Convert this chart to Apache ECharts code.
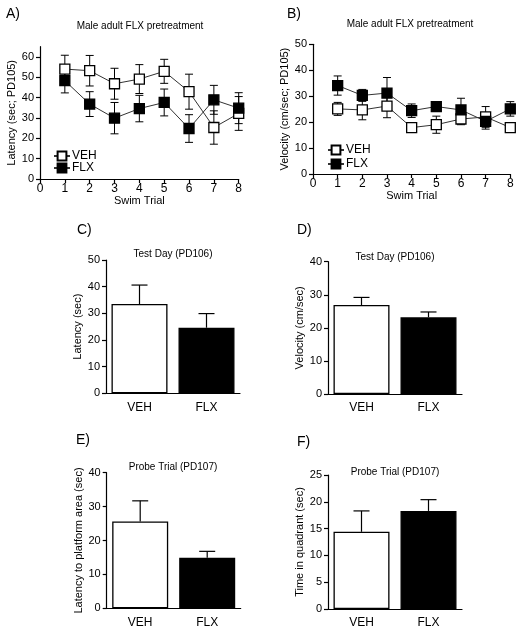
<!DOCTYPE html>
<html><head><meta charset="utf-8">
<script src="https://cdn.jsdelivr.net/npm/echarts@6/dist/echarts.min.js"></script>
<style>html,body{margin:0;padding:0;background:#fff}#c{width:524px;height:633px}</style>
</head><body><div id="c"></div>
<script>
// ---- data ----
const trials = [1, 2, 3, 4, 5, 6, 7, 8];
const latVehMean = [54.0, 53.2, 46.8, 49.1, 52.9, 42.9, 25.3, 32.2];
const latVehSem  = [6.8, 7.5, 7.6, 7.1, 5.9, 8.6, 8.2, 8.3];
const latFlxMean = [48.3, 36.8, 29.9, 34.6, 37.6, 24.8, 38.9, 34.8];
const latFlxSem  = [6.0, 6.1, 7.7, 6.5, 6.6, 6.8, 7.1, 7.6];
const velVehMean = [25.1, 24.7, 26.2, 17.9, 19.0, 21.2, 22.0, 17.9];
const velVehSem  = [2.5, 3.8, 4.5, 1.0, 3.3, 2.2, 4.0, 1.5];
const velFlxMean = [34.1, 30.3, 31.2, 24.4, 26.0, 24.7, 20.3, 25.1];
const velFlxSem  = [3.7, 2.3, 6.0, 2.6, 1.9, 4.5, 3.0, 2.8];
const groups = ['VEH', 'FLX'];
const testLatMean = [33.5, 24.6];
const testLatSem  = [7.1, 5.3];
const testVelMean = [26.9, 23.2];
const testVelSem  = [2.3, 1.6];
const probeLatMean = [25.6, 14.9];
const probeLatSem  = [6.1, 1.9];
const probeTimeMean = [14.4, 18.3];
const probeTimeSem  = [3.9, 2.1];
const latTicks = [0, 10, 20, 30, 40, 50, 60];

const FONT = "'Liberation Sans', Arial, sans-serif";
const chart = echarts.init(document.getElementById('c'));

function errLine(params, api) {
  const x = api.value(0), lo = api.value(1), hi = api.value(2);
  const t = api.coord([x, hi]), b = api.coord([x, lo]);
  const hw = 4, st = {stroke: '#000', lineWidth: 1};
  return {type: 'group', children: [
    {type: 'line', shape: {x1: t[0], y1: t[1], x2: b[0], y2: b[1]}, style: st},
    {type: 'line', shape: {x1: t[0] - hw, y1: t[1], x2: t[0] + hw, y2: t[1]}, style: st},
    {type: 'line', shape: {x1: b[0] - hw, y1: b[1], x2: b[0] + hw, y2: b[1]}, style: st}
  ]};
}
function errBar(params, api) {
  const x = api.value(0), lo = api.value(1), hi = api.value(2);
  const t = api.coord([x, hi]), b = api.coord([x, lo]);
  const hw = 8, st = {stroke: '#000', lineWidth: 1.2};
  return {type: 'group', children: [
    {type: 'line', shape: {x1: t[0], y1: t[1], x2: b[0], y2: b[1]}, style: st},
    {type: 'line', shape: {x1: t[0] - hw, y1: t[1], x2: t[0] + hw, y2: t[1]}, style: st}
  ]};
}

const axisLine = {lineStyle: {color: '#000', width: 1.2}};
const axisTick = {inside: false, length: 4, lineStyle: {color: '#000', width: 1.2}};
const lbl = {color: '#000', fontSize: 11, fontFamily: FONT, margin: 6};

function yAxis(gi, name, max, interval, gap, custom) {
  const a = {type: 'value', gridIndex: gi, min: 0, max: max, interval: interval,
    name: name, nameLocation: 'middle', nameGap: gap, nameRotate: 90,
    nameTextStyle: {color: '#000', fontSize: 11, fontFamily: FONT},
    axisLine: Object.assign({show: true}, axisLine), axisTick: Object.assign({show: true}, axisTick),
    axisLabel: Object.assign({}, lbl), splitLine: {show: false}};
  if (custom) { a.axisLabel.customValues = custom; a.axisTick.customValues = custom; }
  return a;
}
function xValAxis(gi) {
  return {type: 'value', gridIndex: gi, min: 0, max: 8, interval: 1,
    name: 'Swim Trial', nameLocation: 'middle', nameGap: 16,
    nameTextStyle: {color: '#000', fontSize: 11, fontFamily: FONT},
    axisLine: axisLine, axisTick: axisTick, axisLabel: Object.assign({}, lbl, {fontSize: 12, margin: 4}), splitLine: {show: false}};
}
function xCatAxis(gi) {
  return {type: 'category', gridIndex: gi, data: groups,
    axisLine: axisLine, axisTick: {show: false},
    axisLabel: Object.assign({}, lbl, {fontSize: 12, margin: 8})};
}

function lineSeries(gi, name, means, filled) {
  return {type: 'line', name: name, xAxisIndex: gi, yAxisIndex: gi, z: 3,
    data: trials.map((t, i) => [t, means[i]]),
    symbol: 'rect', symbolSize: 10,
    lineStyle: {color: '#333', width: 1},
    itemStyle: {color: filled ? '#000' : '#fff', borderColor: '#000', borderWidth: 1.3}};
}
function errSeries(gi, means, sems) {
  return {type: 'custom', xAxisIndex: gi, yAxisIndex: gi, z: 2, renderItem: errLine,
    encode: {x: 0, y: [1, 2]},
    data: trials.map((t, i) => [t, means[i] - sems[i], means[i] + sems[i]])};
}
function barSeries(gi, means) {
  return {type: 'bar', xAxisIndex: gi, yAxisIndex: gi, barWidth: 56, z: 3,
    data: means.map((v, i) => ({value: v, itemStyle: {color: i === 0 ? '#fff' : '#000'}})),
    itemStyle: {borderColor: '#000', borderWidth: 1.3}};
}
function barErr(gi, means, sems) {
  return {type: 'custom', xAxisIndex: gi, yAxisIndex: gi, z: 2, renderItem: errBar,
    encode: {x: 0, y: [1, 2]},
    data: means.map((v, i) => [i, v, v + sems[i]])};
}

function ttl(text, x, y, size) {
  return {text: text, left: x, top: y, textAlign: size ? 'left' : 'center', padding: 0,
    textStyle: {fontSize: size || 10, fontWeight: 'normal', color: '#000', fontFamily: FONT}};
}

chart.setOption({
  animation: false,
  backgroundColor: '#fff',
  title: [
    ttl('A)', 6, 7, 14), ttl('B)', 287, 7, 14), ttl('C)', 77, 223, 14),
    ttl('D)', 297, 223, 14), ttl('E)', 76, 433, 14), ttl('F)', 297, 435, 14),
    ttl('Male adult FLX pretreatment', 140, 21), ttl('Male adult FLX pretreatment', 410, 19),
    ttl('Test Day (PD106)', 173, 249), ttl('Test Day (PD106)', 395, 252),
    ttl('Probe Trial (PD107)', 173, 462), ttl('Probe Trial (PD107)', 395, 467)
  ],
  legend: [
    {data: ['VEH', 'FLX'], orient: 'vertical', left: 48, top: 145, itemWidth: 16, itemHeight: 11, itemGap: 0,
      textStyle: {fontSize: 12, color: '#000', fontFamily: FONT, padding: [0, 0, 0, -3]}},
    {data: ['VEH', 'FLX'], orient: 'vertical', left: 322, top: 139, itemWidth: 16, itemHeight: 11, itemGap: 2,
      textStyle: {fontSize: 12, color: '#000', fontFamily: FONT, padding: [0, 0, 0, -3]}}
  ],
  grid: [
    {left: 40, top: 46.7, width: 198.7, height: 132.3},
    {left: 313, top: 44.3, width: 197.3, height: 129.7},
    {left: 106, top: 260, width: 134, height: 133.3},
    {left: 328, top: 261.7, width: 134, height: 132.3},
    {left: 106.7, top: 472.7, width: 134, height: 135.6},
    {left: 328, top: 475, width: 134, height: 134}
  ],
  xAxis: [xValAxis(0), xValAxis(1), xCatAxis(2), xCatAxis(3), xCatAxis(4), xCatAxis(5)],
  yAxis: [
    yAxis(0, 'Latency (sec; PD105)', 65, 10, 19, latTicks),
    yAxis(1, 'Velocity (cm/sec; PD105)', 50, 10, 20),
    yAxis(2, 'Latency (sec)', 50, 10, 18.5),
    yAxis(3, 'Velocity (cm/sec)', 40, 10, 21),
    yAxis(4, 'Latency to platform area (sec)', 40, 10, 20),
    yAxis(5, 'Time in quadrant (sec)', 25, 5, 20)
  ],
  series: [
    errSeries(0, latVehMean, latVehSem), errSeries(0, latFlxMean, latFlxSem),
    lineSeries(0, 'VEH', latVehMean, false), lineSeries(0, 'FLX', latFlxMean, true),
    errSeries(1, velVehMean, velVehSem), errSeries(1, velFlxMean, velFlxSem),
    lineSeries(1, 'VEH', velVehMean, false), lineSeries(1, 'FLX', velFlxMean, true),
    barErr(2, testLatMean, testLatSem), barSeries(2, testLatMean),
    barErr(3, testVelMean, testVelSem), barSeries(3, testVelMean),
    barErr(4, probeLatMean, probeLatSem), barSeries(4, probeLatMean),
    barErr(5, probeTimeMean, probeTimeSem), barSeries(5, probeTimeMean)
  ]
});
</script></body></html>
